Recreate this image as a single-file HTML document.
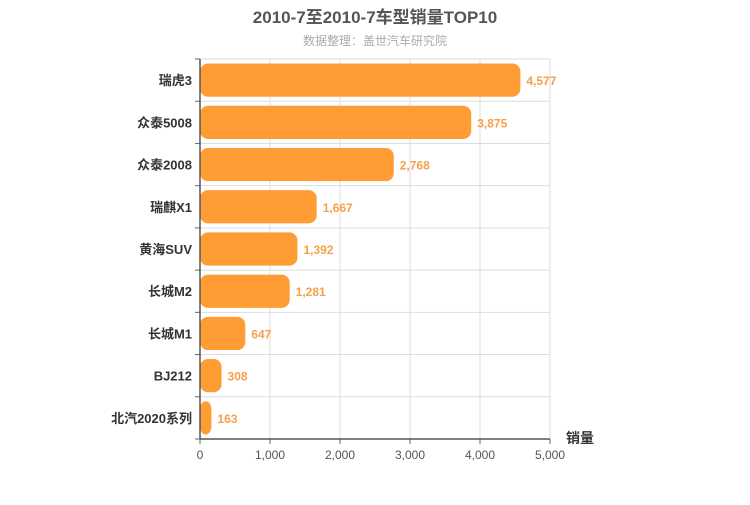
<!DOCTYPE html>
<html><head><meta charset="utf-8"><style>
body{margin:0;background:#fff;font-family:"Liberation Sans","Noto Sans CJK SC",sans-serif}
svg text{font-family:"Liberation Sans","Noto Sans CJK SC",sans-serif}
</style></head><body>
<svg id="c" width="750" height="500" xmlns="http://www.w3.org/2000/svg">
<text x="375" y="23" text-anchor="middle" font-size="17" font-weight="bold" fill="#555">2010-7至2010-7车型销量TOP10</text>
<text x="375" y="45" text-anchor="middle" font-size="12" fill="#aaa">数据整理：盖世汽车研究院</text>
<text x="580" y="443" text-anchor="middle" font-size="14" font-weight="bold" fill="#333">销量</text>
<g id="grid"></g><g id="bars"></g><g id="axes"></g>
</svg>
<script>
const categories=["瑞虎3","众泰5008","众泰2008","瑞麒X1","黄海SUV","长城M2","长城M1","BJ212","北汽2020系列"];
const values=[4577,3875,2768,1667,1392,1281,647,308,163];
const ticks=[0,1000,2000,3000,4000,5000];
const tickLabels=["0","1,000","2,000","3,000","4,000","5,000"];
const NS="http://www.w3.org/2000/svg";
const L=200,R=550,T=59,B=439,MAX=5000;
const x=v=>L+(R-L)*v/MAX;
const rowH=(B-T)/categories.length;
const y=i=>T+i*rowH;
function mk(t,a,p){const e=document.createElementNS(NS,t);for(const k in a)e.setAttribute(k,a[k]);p.appendChild(e);return e;}
const g=document.getElementById('grid'),bg=document.getElementById('bars'),ax=document.getElementById('axes');
ticks.forEach((t,i)=>{
 if(i>0){const l=mk('line',{x1:x(t),x2:x(t),y1:T,y2:B,stroke:'#ddd'},g);
 
 }
 const tk=mk('line',{x1:x(t),x2:x(t),y1:B,y2:B+5,stroke:'#666'},ax);
 
 
 const tl=mk('text',{x:x(t),y:B+20,'text-anchor':'middle','font-size':12,fill:'#555'},ax);
 tl.textContent=tickLabels[i];
 
 
});
for(let i=0;i<=categories.length;i++){
 const l=mk('line',{x1:L,x2:R,y1:y(i),y2:y(i),stroke:'#ddd'},g);
 
 
 const tk=mk('line',{x1:L-5,x2:L,y1:y(i),y2:y(i),stroke:'#666'},ax);
 
 
}
categories.forEach((c,i)=>{
 const w=Math.max(x(values[i])-L,10);
 const r=mk('rect',{x:L,y:y(i)+4.5,width:w,height:rowH-9,rx:8,fill:'#ff9c34'},bg);
 
 
 const v=mk('text',{x:L+w+6,y:y(i)+rowH/2+5,'font-size':12,'font-weight':'bold',fill:'#f5a04a'},bg);
 v.textContent=values[i].toLocaleString('en-US');
 
 
 const cl=mk('text',{x:L-8,y:y(i)+rowH/2+5,'text-anchor':'end','font-size':13,'font-weight':'bold',fill:'#333'},ax);
 cl.textContent=c;
 
 
});
const ya=mk('line',{x1:L,x2:L,y1:T,y2:B,stroke:'#555','stroke-width':1.5},ax);


const xa=mk('line',{x1:L,x2:R,y1:B,y2:B,stroke:'#555','stroke-width':1.5},ax);


</script>
</body></html>
